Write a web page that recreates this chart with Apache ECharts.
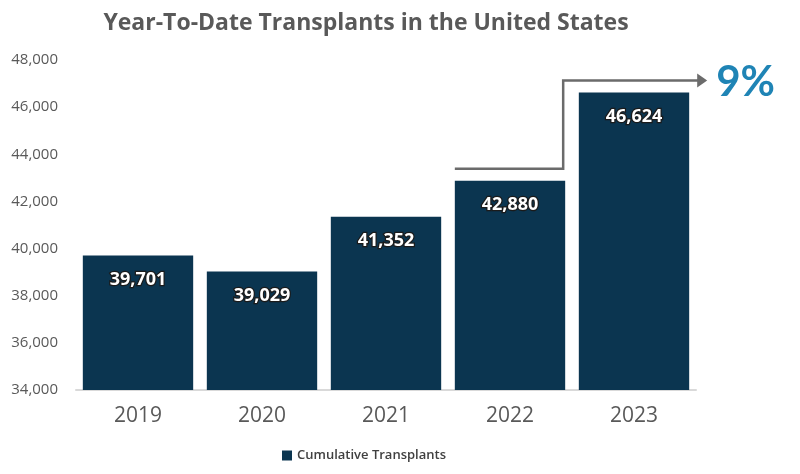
<!DOCTYPE html>
<html>
<head>
<meta charset="utf-8">
<script src="https://cdn.jsdelivr.net/npm/echarts@6/dist/echarts.min.js"></script>
<style>
  html, body { margin: 0; padding: 0; background: #fff; }
  #main { width: 800px; height: 474px; }
</style>
</head>
<body>
<div id="main"></div>
<script>
// 数据
const years = ["2019", "2020", "2021", "2022", "2023"];
const transplants = [39701, 39029, 41352, 42880, 46624];
const yTicks = [34000, 48000, 2000]; // min, max, interval
const growthLabel = "9%";

const chart = echarts.init(document.getElementById("main"));

const option = {
  animation: false,
  title: {
    text: "Year-To-Date Transplants in the United States",
    left: 361,
    textAlign: "center",
    top: 7,
    textStyle: {
      color: "#595959",
      fontFamily: "Open Sans",
      fontWeight: "bold",
      fontSize: 23,
    },
  },
  legend: {
    bottom: 7,
    left: 277,
    itemWidth: 10,
    itemHeight: 10,
    itemGap: 4,
    icon: "rect",
    textStyle: { color: "#404040", fontFamily: "Open Sans", fontSize: 13, fontWeight: 600 },
    data: ["Cumulative Transplants"],
  },
  grid: { left: 76, right: 104, top: 60, bottom: 84 },
  xAxis: {
    type: "category",
    data: years,
    axisTick: { show: false },
    axisLine: { lineStyle: { color: "#d9d9d9", width: 2 } },
    axisLabel: { color: "#595959", fontSize: 21, fontFamily: "Open Sans", margin: 16 },
  },
  yAxis: {
    type: "value",
    min: yTicks[0],
    max: yTicks[1],
    interval: yTicks[2],
    splitLine: { show: false },
    axisLabel: {
      color: "#595959",
      fontSize: 15,
      fontFamily: "Open Sans",
      margin: 18,
      formatter: (v) => v.toLocaleString("en-US"),
    },
  },
  series: [
    {
      name: "Cumulative Transplants",
      type: "bar",
      data: transplants,
      barCategoryGap: "11%",
      itemStyle: { color: "#0b3550" },
      label: {
        show: true,
        position: "insideTop",
        distance: 15,
        color: "#fff",
        fontFamily: "Open Sans",
        fontWeight: "bold",
        fontSize: 18,
        textBorderColor: "#1b1b1b",
        textBorderWidth: 2.5,
        formatter: (p) => p.value.toLocaleString("en-US"),
      },
    },
  ],
};
chart.setOption(option);

// 箭头注释：根据坐标轴换算位置
const pt = (i, v) => chart.convertToPixel({ gridIndex: 0 }, [i, v]);
const catW = pt(1, 0)[0] - pt(0, 0)[0];
const barHalf = catW * 0.89 / 2;
const p22 = pt(3, transplants[3]);
const p23 = pt(4, transplants[4]);
const y1 = p22[1] - 12;
const y2 = p23[1] - 12;
const xStart = p22[0] - barHalf;
const xTurn = p22[0] + barHalf - 2;
const xEnd = p23[0] + barHalf + 18;

chart.setOption({
  graphic: [
    {
      type: "polyline",
      shape: { points: [[xStart, y1], [xTurn, y1], [xTurn, y2], [xEnd - 8, y2]] },
      style: { stroke: "#6b6b6b", lineWidth: 2.5, fill: null },
    },
    {
      type: "polygon",
      shape: { points: [[xEnd - 10, y2 - 7], [xEnd, y2], [xEnd - 10, y2 + 7]] },
      style: { fill: "#6b6b6b" },
    },
    {
      type: "text",
      x: xEnd + 9,
      y: y2 + 2,
      style: {
        text: growthLabel,
        fill: "#1f84b5",
        fontFamily: "Lato",
        fontWeight: "bold",
        fontSize: 42,
        verticalAlign: "middle",
      },
    },
  ],
});
</script>
</body>
</html>
